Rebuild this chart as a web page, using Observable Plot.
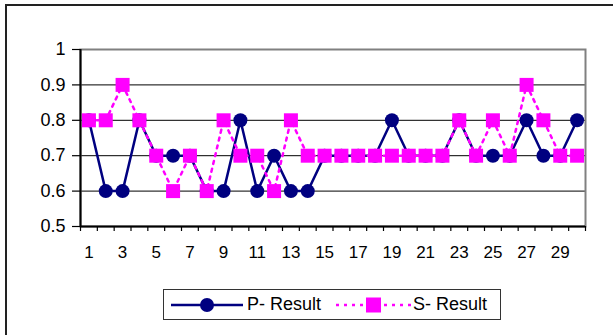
<!DOCTYPE html>
<html>
<head>
<meta charset="utf-8">
<script src="https://cdn.jsdelivr.net/npm/d3@7"></script>
<script src="https://cdn.jsdelivr.net/npm/@observablehq/plot@0.6"></script>
<style>
  html, body { margin: 0; padding: 0; background: #fff; }
  #wrap { position: relative; width: 613px; height: 335px; overflow: hidden; font-family: "Liberation Sans", Arial, sans-serif; }
  #outer { position: absolute; left: 5px; top: 4px; width: 620px; height: 340px; border-top: 2px solid #222; border-left: 2px solid #222; }
  #chart { position: absolute; left: 0; top: 0; }
  #chart svg text { font-family: "Liberation Sans", Arial, sans-serif !important; fill: #000; }
  #chart svg g[aria-label="y-axis tick label"] text { font-size: 18px !important; }
  #chart svg g[aria-label="x-axis tick label"] text { font-size: 17px !important; }
  #legend { position: absolute; left: 163px; top: 289px; width: 336px; height: 29px; border: 1px solid #333; background: #fff; font-size: 18px; color: #000; }
  #legend svg, #legend span { position: absolute; }
  #legend span { top: 4px; line-height: 20px; white-space: nowrap; }
</style>
</head>
<body>
<div id="wrap">
  <div id="outer"></div>
  <div id="chart"></div>
  <div id="legend"></div>
</div>
<script>
const runs = d3.range(1, 31);
const pResult = [0.8,0.6,0.6,0.8,0.7,0.7,0.7,0.6,0.6,0.8,0.6,0.7,0.6,0.6,0.7,0.7,0.7,0.7,0.8,0.7,0.7,0.7,0.8,0.7,0.7,0.7,0.8,0.7,0.7,0.8];
const sResult = [0.8,0.8,0.9,0.8,0.7,0.6,0.7,0.6,0.8,0.7,0.7,0.6,0.8,0.7,0.7,0.7,0.7,0.7,0.7,0.7,0.7,0.7,0.8,0.7,0.8,0.7,0.9,0.8,0.7,0.7];
const yTicks = [0.5, 0.6, 0.7, 0.8, 0.9, 1];
const gridValues = [0.6, 0.7, 0.8, 0.9];
const xLabels = [1,3,5,7,9,11,13,15,17,19,21,23,25,27,29];
const seriesNames = ["P- Result", "S- Result"];
const colors = ["#000080", "#FF00FF"];

const P = runs.map((r, i) => ({run: r, value: pResult[i]}));
const S = runs.map((r, i) => ({run: r, value: sResult[i]}));
const boundaries = d3.range(0, 31).map(i => i + 0.5);

const chart = Plot.plot({
  width: 613,
  height: 285,
  marginLeft: 80,
  marginRight: 28,
  marginTop: 49,
  marginBottom: 59,
  style: {fontFamily: "Liberation Sans, Arial, sans-serif", fontSize: "17px", color: "#000", background: "transparent"},
  x: {type: "linear", domain: [0.5, 30.5]},
  y: {domain: [0.5, 1]},
  marks: [
    Plot.ruleY(gridValues, {stroke: "#000", strokeWidth: 1}),
    Plot.frame({stroke: "#808080", strokeWidth: 2}),
    Plot.ruleX([0.5], {stroke: "#000", strokeWidth: 2}),
    Plot.ruleY([0.5], {stroke: "#000", strokeWidth: 2}),
    Plot.axisY({ticks: yTicks, tickSize: 8, tickPadding: 7, tickFormat: d => String(+d.toFixed(1)), label: null, stroke: "#000", strokeWidth: 1.2, fontSize: 18}),
    Plot.axisX({ticks: boundaries, tickSize: 5, tickFormat: () => "", label: null, stroke: "#000", strokeWidth: 1.2}),
    Plot.axisX({ticks: xLabels, tickSize: 0, tickPadding: 19, tickFormat: d => String(d), label: null, fontSize: 17}),
    Plot.line(P, {x: "run", y: "value", stroke: colors[0], strokeWidth: 2.5}),
    Plot.dot(P, {x: "run", y: "value", r: 7, fill: colors[0], stroke: "none", symbol: "circle"}),
    Plot.line(S, {x: "run", y: "value", stroke: colors[1], strokeWidth: 2.5, strokeDasharray: "3,5"}),
    Plot.dot(S, {x: "run", y: "value", r: 7.9, fill: colors[1], stroke: "none", symbol: "square"})
  ]
});
document.getElementById("chart").appendChild(chart);

// legend (positions relative to legend box at x=163)
const legend = document.getElementById("legend");
function item(name, color, dashed, sym, lineLeft, lineRight, textLeft) {
  const w = lineRight - lineLeft;
  const svg = d3.create("svg").attr("width", w + 2).attr("height", 20)
    .style("left", (lineLeft - 164) + "px").style("top", "5px");
  svg.append("line").attr("x1", 1).attr("x2", w + 1).attr("y1", 10).attr("y2", 10)
    .attr("stroke", color).attr("stroke-width", 2.5).attr("stroke-dasharray", dashed ? "3,5" : null);
  const c = w / 2 + 1;
  if (sym === "circle") svg.append("circle").attr("cx", c).attr("cy", 10).attr("r", 7).attr("fill", color);
  else svg.append("rect").attr("x", c - 7.5).attr("y", 2.5).attr("width", 15).attr("height", 15).attr("fill", color);
  legend.appendChild(svg.node());
  const t = document.createElement("span");
  t.textContent = name;
  t.style.left = (textLeft - 164) + "px";
  legend.appendChild(t);
}
item(seriesNames[0], colors[0], false, "circle", 170, 242, 247);
item(seriesNames[1], colors[1], true, "square", 335, 410, 413);
</script>
</body>
</html>
